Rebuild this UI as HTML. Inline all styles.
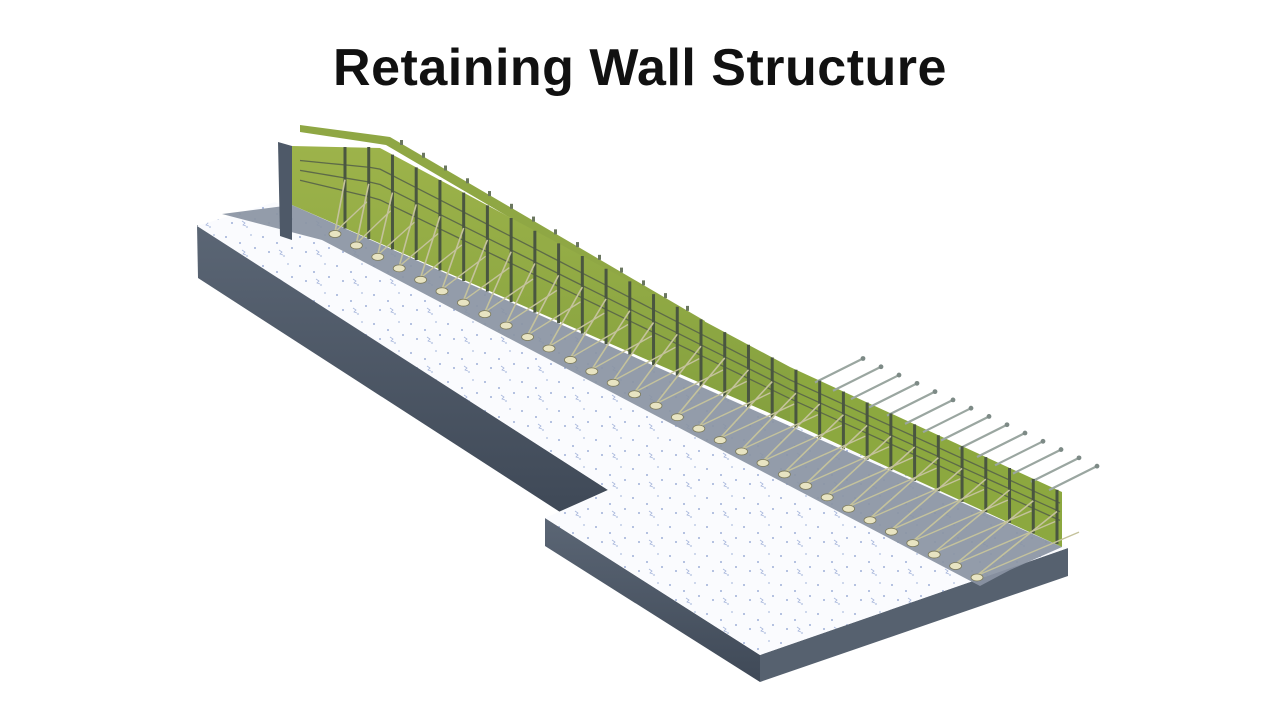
<!DOCTYPE html>
<html><head><meta charset="utf-8"><style>
html,body{margin:0;padding:0;background:#fff;width:1280px;height:720px;overflow:hidden}
h1{position:absolute;top:38px;left:0;width:1280px;margin:0;text-align:center;font:bold 52px "Liberation Sans",sans-serif;color:#111;letter-spacing:0.5px}
svg{position:absolute;left:0;top:0}
</style></head><body>
<h1>Retaining Wall Structure</h1>
<svg id="s" width="1280" height="720" viewBox="0 0 1280 720">
<defs>
<pattern id="dots" width="37" height="29" patternUnits="userSpaceOnUse">
<rect width="37" height="29" fill="#fafbfe"/>
<circle cx="4" cy="5" r="1" fill="#9fb0d8"/><circle cx="18" cy="11" r="1" fill="#9fb0d8"/>
<circle cx="29" cy="3" r="0.9" fill="#b0bfe0"/><circle cx="10" cy="20" r="1" fill="#9fb0d8"/>
<circle cx="25" cy="24" r="0.9" fill="#b0bfe0"/><circle cx="33" cy="16" r="1" fill="#9fb0d8"/>
<path d="M20 18 l3 2 l-2 2 l3 1" stroke="#a8b7dc" stroke-width="0.8" fill="none"/>
</pattern>
<linearGradient id="face" x1="0" y1="0" x2="0" y2="1"><stop offset="0" stop-color="#5b6675"/><stop offset="1" stop-color="#3f4957"/></linearGradient>
<linearGradient id="grn" x1="0" y1="0" x2="0" y2="1"><stop offset="0" stop-color="#9db34a"/><stop offset="1" stop-color="#84a03e"/></linearGradient>
</defs>
<polygon points="197,225 608,490 560,512 198,278" fill="url(#face)"/>
<polygon points="545,518 760,655 760,682 545,546" fill="url(#face)"/>
<polygon points="760,655 1068,548 1068,576 760,682" fill="#56616f"/>
<polygon points="197,226 275,202 1058,540 1068,548 760,655 545,518 608,490" fill="url(#dots)"/>
<polygon points="222,214 292,205 1062,547 1010,570 980,586 322,240" fill="#8a94a3" opacity="0.92"/>
<polygon points="278,142 292,146 292,240 280,236" fill="#4e5968"/>
<polygon points="300,125 390,137 705,321 700,329 386,145 300,132" fill="#8fa744"/>
<polygon points="292,146 380,148 790,367 790,422 292,205" fill="url(#grn)"/>
<polygon points="790,367 1062,492 1062,547 790,422" fill="#8ca83f"/>
<g id="g"></g>
</svg>
<script>
(function(){
var g=document.getElementById('g'),ns='http://www.w3.org/2000/svg';
function el(t,a){var e=document.createElementNS(ns,t);for(var k in a)e.setAttribute(k,a[k]);g.appendChild(e);return e;}
function wt(x){if(x<380)return 147;if(x<790)return 148+0.534*(x-380);return 367+0.46*(x-790);}
function wb(x){return 205+0.443*(x-292);}
for(var w=0;w<3;w++){var pts=[];for(var x=300;x<=1060;x+=10){var t=wt(x),b=wb(x);pts.push(x+','+(t+(b-t)*(0.22+w*0.16)));}
el('polyline',{points:pts.join(' '),fill:'none',stroke:'#5d6a48','stroke-width':1.3});}
for(var i=0;i<14;i++){var x=815+i*18,y=wt(x)+4;el('line',{x1:x,y1:y,x2:x+48,y2:y-24,stroke:'#9aa6a0','stroke-width':2.2});el('circle',{cx:x+48,cy:y-24,r:2.4,fill:'#7d8a86'});}
for(var i=0;i<14;i++){var x=400+i*22,y=150+0.58*(x-400)-10;el('rect',{x:x,y:y,width:3,height:5,fill:'#6b7760'});}
var n=31;
for(var i=0;i<n;i++){var px=345+i*(712/(n-1)),t=wt(px),b=wb(px);
el('line',{x1:px,y1:t,x2:px,y2:b,stroke:'#4a5640','stroke-width':3});
var fx=335+i*(642/(n-1)),fy=232+0.535*(fx-335);
var p2=px+22;
el('line',{x1:fx,y1:fy,x2:px,y2:t+(b-t)*0.4,stroke:'#c4c29c','stroke-width':1.6});
el('line',{x1:fx,y1:fy,x2:p2,y2:wt(p2)+(wb(p2)-wt(p2))*0.6,stroke:'#c4c29c','stroke-width':1.4});
el('ellipse',{cx:fx,cy:fy+2,rx:6,ry:3.5,fill:'#e8e4c2',stroke:'#7c7a5a','stroke-width':0.8});}
})();
</script>
</body></html>
